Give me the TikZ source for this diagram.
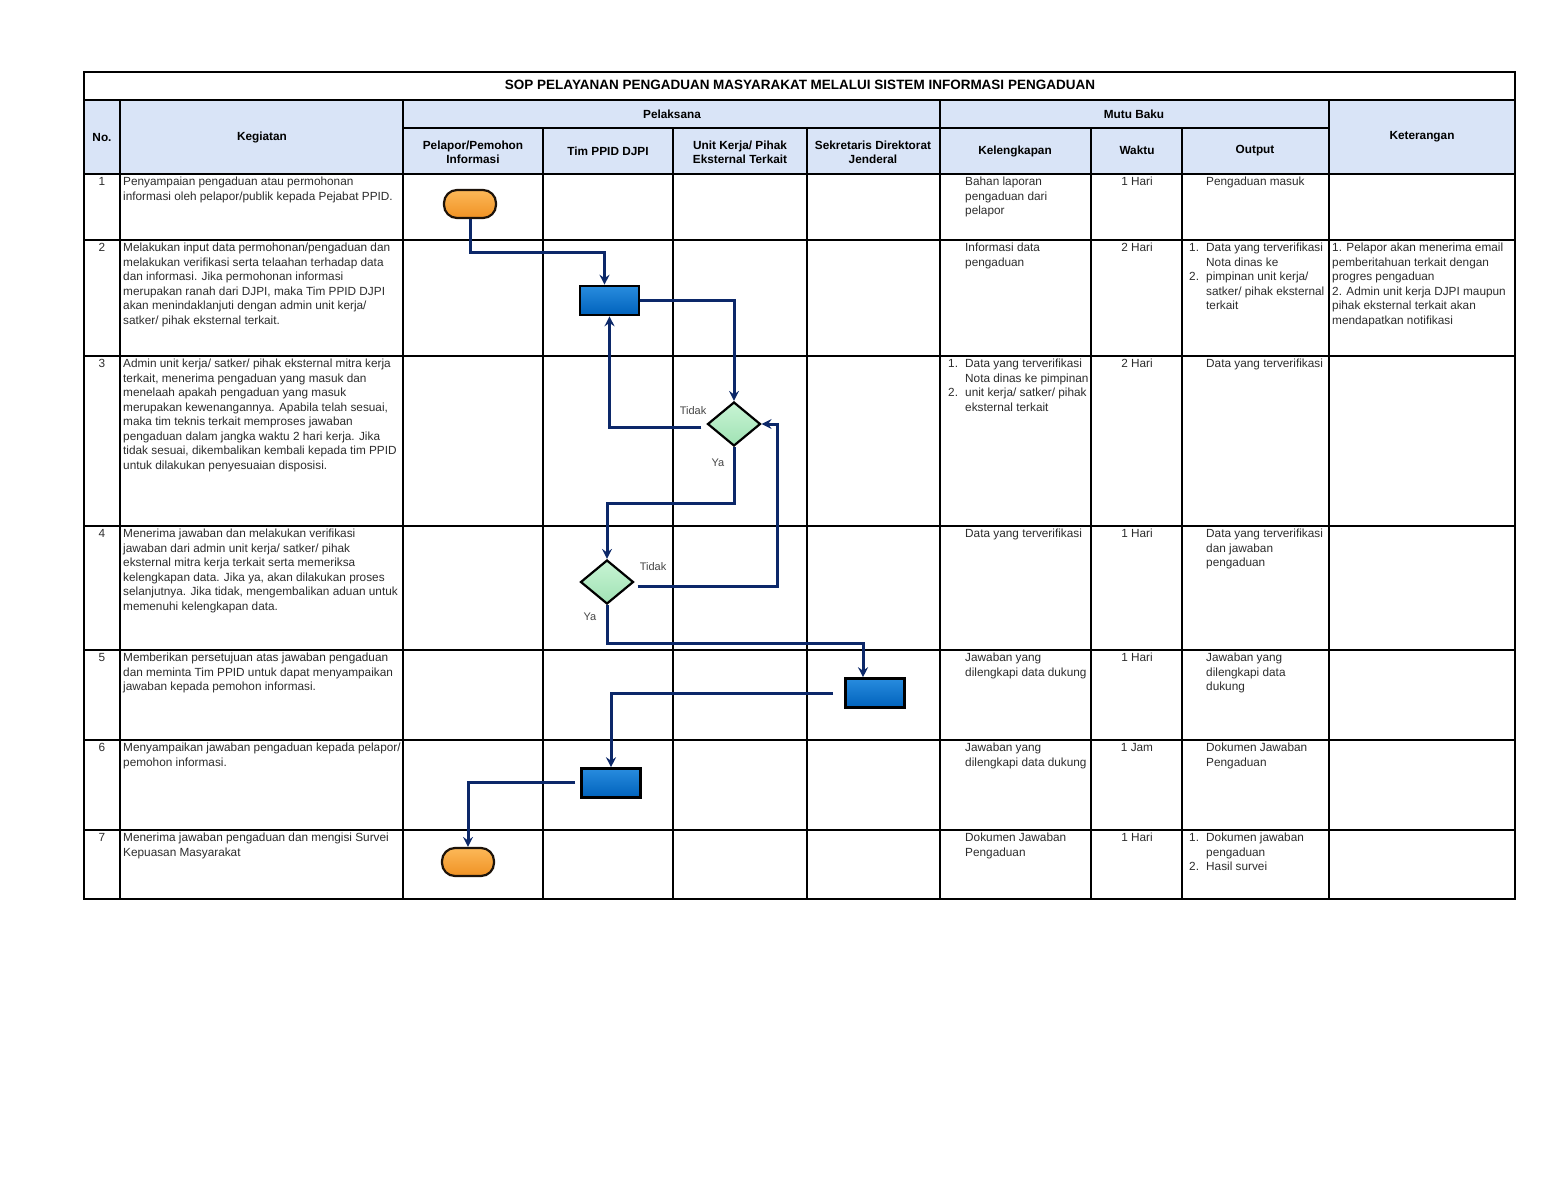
\documentclass[tikz,border=0pt]{standalone}
\usepackage{fontspec}
\setmainfont{Liberation Sans}
\usetikzlibrary{shapes.geometric,arrows.meta,calc}
\definecolor{hdrblue}{RGB}{217,228,247}
\definecolor{navy}{RGB}{12,40,105}
\definecolor{txtgray}{RGB}{45,45,45}
\definecolor{lblgray}{RGB}{70,70,70}
\definecolor{procTop}{RGB}{40,140,222}
\definecolor{procBot}{RGB}{0,98,188}
\definecolor{termTop}{RGB}{252,184,88}
\definecolor{termBot}{RGB}{240,146,36}
\definecolor{decTop}{RGB}{200,244,212}
\definecolor{decBot}{RGB}{160,226,180}
\begin{document}
\begin{tikzpicture}[x=1pt,y=-1pt,
  gridline/.style={line width=1.4pt,black},
  outerline/.style={line width=2.2pt,black},
  title/.style={font=\fontsize{13.5}{16}\selectfont\bfseries,inner sep=0pt},
  hdr/.style={font=\fontsize{11.8}{14}\selectfont\bfseries,align=center,inner sep=0pt},
  cell/.style={anchor=north west,inner sep=0pt,align=left,text=txtgray,font=\fontsize{11.8}{14.5}\selectfont},
  cellc/.style={anchor=north,inner sep=0pt,align=center,text=txtgray,font=\fontsize{11.8}{14.5}\selectfont},
  term/.style={draw=black!85!brown,line width=2.2pt,rounded corners=13pt,minimum width=52pt,minimum height=28pt,top color=termTop,bottom color=termBot,inner sep=0pt},
  proc/.style={draw=black,line width=2.6pt,minimum width=59pt,minimum height=29pt,top color=procTop,bottom color=procBot,inner sep=0pt},
  dec/.style={diamond,draw=black,line width=2.2pt,minimum width=53pt,minimum height=44pt,top color=decTop,bottom color=decBot,inner sep=0pt},
  flow/.style={draw=navy,line width=3pt,-{Stealth[length=10pt,width=10pt,inset=3.5pt]}},
  lbl/.style={text=lblgray,font=\fontsize{11}{13}\selectfont,inner sep=0pt}
]
% canvas
\fill[white] (0,0) rectangle (1553,1200);
\useasboundingbox (0,0) rectangle (1553,1200);

% header fill
\fill[hdrblue] (84,100) rectangle (1515,174);

% horizontal grid lines
\draw[outerline] (84,100) -- (1515,100);
\draw[gridline] (403,128) -- (1329,128);
\draw[outerline] (84,174) -- (1515,174);
\foreach \yy in {240,356,526,650,740,830}
  \draw[gridline] (84,\yy) -- (1515,\yy);
% vertical grid lines
\foreach \xx in {120,403,940,1329}
  \draw[gridline] (\xx,100) -- (\xx,899);
\foreach \xx in {543,673,807,1091,1182}
  \draw[gridline] (\xx,128) -- (\xx,899);
% outer box
\draw[outerline] (84,72) rectangle (1515,899);

% title and headers
\node[title] (ttl) at (800,85) {SOP PELAYANAN PENGADUAN MASYARAKAT MELALUI SISTEM INFORMASI PENGADUAN};
\node[hdr] (hno) at (102,137) {No.};
\node[hdr] (hkeg) at (262,137) {Kegiatan};
\node[hdr] (hpel) at (672,114) {Pelaksana};
\node[hdr] (hmutu) at (1134,114) {Mutu Baku};
\node[hdr] (hket) at (1422,137) {Keterangan};
\node[hdr] (hpp) at (473,152) {Pelapor/Pemohon\\Informasi};
\node[hdr] (htim) at (608,151) {Tim PPID DJPI};
\node[hdr] (hunit) at (740,152) {Unit Kerja/ Pihak\\Eksternal Terkait};
\node[hdr] (hsek) at (873,152) {Sekretaris Direktorat\\Jenderal};
\node[hdr] (hkel) at (1015,151) {Kelengkapan};
\node[hdr] (hwak) at (1137,150) {Waktu};
\node[hdr] (hout) at (1255,151) {Output};

% ---- row 1
\node[cellc] (n1) at (102,177) {1};
\node[cell] (k1) at (123,177) {Penyampaian pengaduan atau permohonan\\informasi oleh pelapor/publik kepada Pejabat PPID.};
\node[cell] (l1) at (965,177) {Bahan laporan\\pengaduan dari\\pelapor};
\node[cellc] (w1) at (1137,177) {1 Hari};
\node[cell] (o1) at (1206,177) {Pengaduan masuk};

% ---- row 2
\node[cellc] (n2) at (102,243) {2};
\node[cell] (k2) at (123,243) {Melakukan input data permohonan/pengaduan dan\\melakukan verifikasi serta telaahan terhadap data\\dan informasi. Jika permohonan informasi\\merupakan ranah dari DJPI, maka Tim PPID DJPI\\akan menindaklanjuti dengan admin unit kerja/\\satker/ pihak eksternal terkait.};
\node[cell] (l2) at (965,243) {Informasi data\\pengaduan};
\node[cellc] (w2) at (1137,243) {2 Hari};
\node[cell] (o2a) at (1189,243) {1.};
\node[cell] (o2b) at (1189,272) {2.};
\node[cell] (o2) at (1206,243) {Data yang terverifikasi\\Nota dinas ke\\pimpinan unit kerja/\\satker/ pihak eksternal\\terkait};
\node[cell] (t2) at (1332,243) {1. Pelapor akan menerima email\\pemberitahuan terkait dengan\\progres pengaduan\\2. Admin unit kerja DJPI maupun\\pihak eksternal terkait akan\\mendapatkan notifikasi};

% ---- row 3
\node[cellc] (n3) at (102,359) {3};
\node[cell] (k3) at (123,359) {Admin unit kerja/ satker/ pihak eksternal mitra kerja\\terkait, menerima pengaduan yang masuk dan\\menelaah apakah pengaduan yang masuk\\merupakan kewenangannya. Apabila telah sesuai,\\maka tim teknis terkait memproses jawaban\\pengaduan dalam jangka waktu 2 hari kerja. Jika\\tidak sesuai, dikembalikan kembali kepada tim PPID\\untuk dilakukan penyesuaian disposisi.};
\node[cell] (l3a) at (948,359) {1.};
\node[cell] (l3b) at (948,388) {2.};
\node[cell] (l3) at (965,359) {Data yang terverifikasi\\Nota dinas ke pimpinan\\unit kerja/ satker/ pihak\\eksternal terkait};
\node[cellc] (w3) at (1137,359) {2 Hari};
\node[cell] (o3) at (1206,359) {Data yang terverifikasi};

% ---- row 4
\node[cellc] (n4) at (102,529) {4};
\node[cell] (k4) at (123,529) {Menerima jawaban dan melakukan verifikasi\\jawaban dari admin unit kerja/ satker/ pihak\\eksternal mitra kerja terkait serta memeriksa\\kelengkapan data. Jika ya, akan dilakukan proses\\selanjutnya. Jika tidak, mengembalikan aduan untuk\\memenuhi kelengkapan data.};
\node[cell] (l4) at (965,529) {Data yang terverifikasi};
\node[cellc] (w4) at (1137,529) {1 Hari};
\node[cell] (o4) at (1206,529) {Data yang terverifikasi\\dan jawaban\\pengaduan};

% ---- row 5
\node[cellc] (n5) at (102,653) {5};
\node[cell] (k5) at (123,653) {Memberikan persetujuan atas jawaban pengaduan\\dan meminta Tim PPID untuk dapat menyampaikan\\jawaban kepada pemohon informasi.};
\node[cell] (l5) at (965,653) {Jawaban yang\\dilengkapi data dukung};
\node[cellc] (w5) at (1137,653) {1 Hari};
\node[cell] (o5) at (1206,653) {Jawaban yang\\dilengkapi data\\dukung};

% ---- row 6
\node[cellc] (n6) at (102,743) {6};
\node[cell] (k6) at (123,743) {Menyampaikan jawaban pengaduan kepada pelapor/\\pemohon informasi.};
\node[cell] (l6) at (965,743) {Jawaban yang\\dilengkapi data dukung};
\node[cellc] (w6) at (1137,743) {1 Jam};
\node[cell] (o6) at (1206,743) {Dokumen Jawaban\\Pengaduan};

% ---- row 7
\node[cellc] (n7) at (102,833) {7};
\node[cell] (k7) at (123,833) {Menerima jawaban pengaduan dan mengisi Survei\\Kepuasan Masyarakat};
\node[cell] (l7) at (965,833) {Dokumen Jawaban\\Pengaduan};
\node[cellc] (w7) at (1137,833) {1 Hari};
\node[cell] (o7a) at (1189,833) {1.};
\node[cell] (o7b) at (1189,862) {2.};
\node[cell] (o7) at (1206,833) {Dokumen jawaban\\pengaduan\\Hasil survei};

% ---- flow shapes
\node[term] (s) at (470,204) {};
\node[proc] (p1) at (609.5,300.5) {};
\node[dec]  (d1) at (734,424) {};
\node[dec]  (d2) at (607,582) {};
\node[proc] (p2) at (875,693) {};
\node[proc] (p3) at (611,783) {};
\node[term] (e) at (468,862) {};

% helper coordinates
\coordinate (h1) at (0,252);
\coordinate (h2) at (0,503);
\coordinate (h3) at (0,643);

% ---- connectors
\draw[flow] (s.south) -- (s.south |- h1) -| ($(p1.north)+(-5,0)$);
\draw[flow] (p1.east) -| (d1.north);
\draw[flow] ($(d1.west)+(-5,3)$) -| (p1.south);
\draw[flow] (d1.south) -- (d1.south |- h2) -| (d2.north);
\draw[flow] ($(d2.east)+(3,4)$) -| ($(d1.east)+(16,0)$) -- (d1.east);
\draw[flow] (d2.south) -- (d2.south |- h3) -| ($(p2.north)+(-12,0)$);
\draw[flow] ($(p2.west)+(-11,0)$) -| (p3.north);
\draw[flow] ($(p3.west)+(-5,-1)$) -| (e.north);

% ---- branch labels
\node[lbl] (t1) at (693,411) {Tidak};
\node[lbl] (y1) at (718,463) {Ya};
\node[lbl] (t2l) at (653,567) {Tidak};
\node[lbl] (y2) at (590,617) {Ya};
\end{tikzpicture}
\end{document}
